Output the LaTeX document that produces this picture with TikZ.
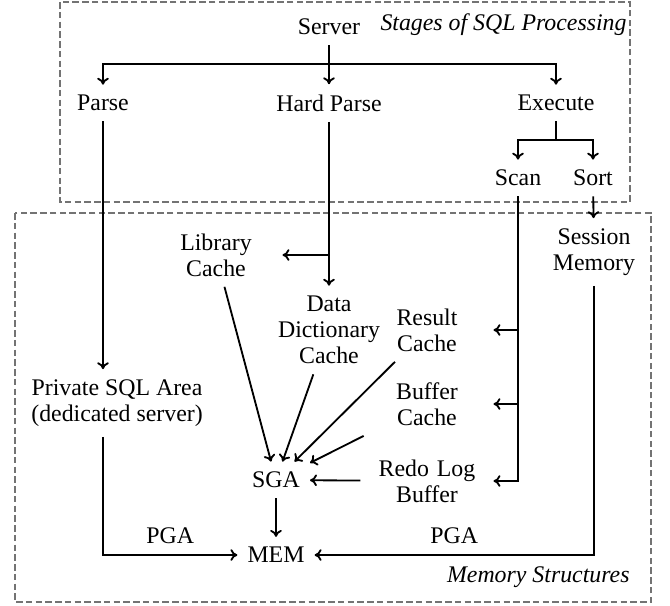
\documentclass[tikz,border=0pt]{standalone}
\usepackage{fontspec}
\setmainfont{Liberation Serif}
\usetikzlibrary{arrows.meta}
\tikzset{
  stage/.style={font=\fontsize{11}{12}\selectfont, align=center, inner xsep=4.5pt, inner ysep=4.6pt},
  cachebox/.style={stage, text width=52pt},
  flow/.style={-{To[length=3.2pt,width=5.4pt]}, line width=.85pt},
  group/.style={draw=gray!90!black, dash pattern=on 3pt off 1.5pt, line width=.5pt},
  grouplabel/.style={font=\fontsize{11}{12}\selectfont\itshape, anchor=east, inner sep=0pt}
}
\begin{document}
\begin{tikzpicture}[x=.4615pt,y=-.4615pt]
    \useasboundingbox (0,0) rectangle (670,605);
    \draw[group] (60,2) rectangle (630,202);
    \draw[group] (15,213) rectangle (651,602);
    \node[grouplabel] (stagelbl) at (627,25) {Stages of SQL Processing};
    \node[grouplabel] (memlbl) at (630,577) {Memory Structures};

    % processing stages
    \node[stage] (srv) at (329,27) {Server};
    \node[stage] (parse) at (103,103) {Parse};
    \node[stage] (hparse) at (329,103) {Hard Parse};
    \node[stage] (exec) at (556,103) {Execute};
    \node[stage] (scan) at (518,178) {Scan};
    \node[stage] (sort) at (593,178) {Sort};
    \coordinate (srvfork) at (329,64);
    \coordinate (exfork) at (556,140);

    % memory structures
    \node[cachebox] (libc) at (216,255) {Library Cache};
    \node[cachebox] (ddc) at (329,330) {Data Dictionary Cache};
    \node[cachebox] (resc) at (427,330) {Result Cache};
    \node[cachebox] (bufc) at (427,404) {Buffer Cache};
    \node[cachebox] (redo) at (427,481) {Redo Log Buffer};
    \node[stage] (sess) at (594,252) {Session\\Memory};
    \node[stage] (priv) at (117,403) {Private SQL Area\\(dedicated server)};
    \node[stage] (sga) at (276,480) {SGA};
    \node[stage] (mem) at (276,555) {MEM};

    \draw[line width=.85pt] (srv) -- (srvfork);
    \draw[flow] (srvfork) -| (parse);
    \draw[flow] (srvfork) -- (hparse);
    \draw[flow] (srvfork) -| (exec);
    \draw[line width=.85pt] (exec) -- (exfork);
    \draw[flow] (exfork) -| (scan);
    \draw[flow] (exfork) -| (sort);

    \draw[flow] (parse) -- (parse |- priv.north);
    \draw[flow] (hparse) -- (ddc);
    \draw[flow] (hparse |- libc) -- (libc);
    \draw[flow] (sort) -- (sess);
    \draw[flow] (scan) |- (redo);
    \draw[flow] (scan |- resc) -- (resc);
    \draw[flow] (scan |- bufc) -- (bufc);

    \foreach \c in {libc,ddc,resc,bufc,redo}
      \draw[flow] (\c) -- (sga);
    \draw[flow] (sga) -- (mem);
    \draw[flow] (parse |- priv.south) |- node[stage, above, pos=.75] (pgaleft) {PGA} (mem);
    \draw[flow] (sess) |- node[stage, above, pos=.75] (pgaright) {PGA} (mem);
  \end{tikzpicture}
\end{document}
